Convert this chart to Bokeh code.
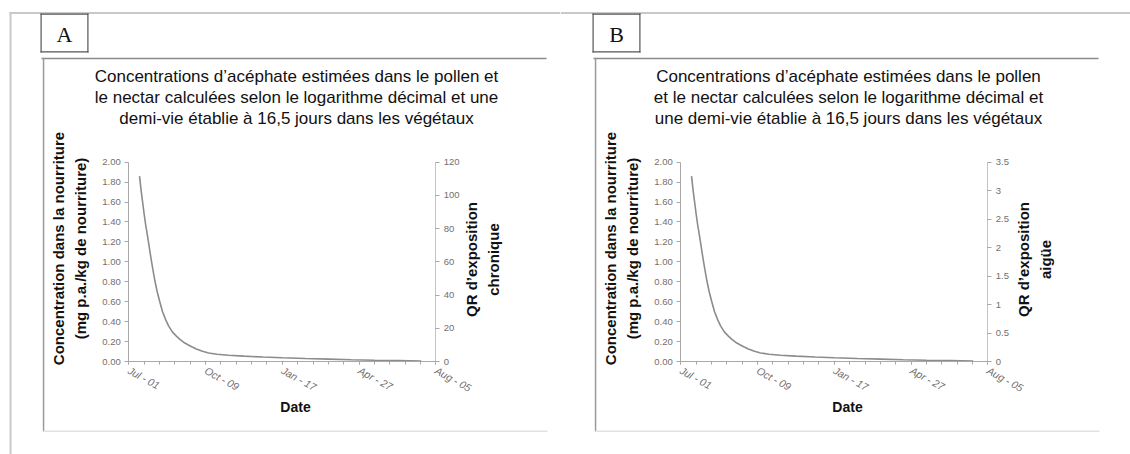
import math
from bokeh.plotting import figure
from bokeh.models import Range1d, LinearAxis, FixedTicker, Label, BoxAnnotation
from bokeh.layouts import row
from bokeh.embed import file_html
from bokeh.resources import INLINE

# ---------------- data ----------------
days_after_jul01 = [14, 16, 18, 20, 22, 25, 28, 31, 34, 37, 40, 44, 48, 52, 57, 62, 67,
                    73, 80, 88, 96, 104, 115, 130, 150, 175, 200, 230, 260, 290, 320, 350, 381]
concentration = [1.86, 1.72, 1.60, 1.48, 1.37, 1.23, 1.08, 0.94, 0.81, 0.70, 0.61, 0.50,
                 0.42, 0.355, 0.295, 0.255, 0.22, 0.185, 0.155, 0.125, 0.103, 0.086, 0.073,
                 0.063, 0.054, 0.045, 0.037, 0.030, 0.024, 0.018, 0.013, 0.009, 0.005]

date_tick_days = [0, 100, 200, 300, 400]
date_tick_labels = ["Jul - 01", "Oct - 09", "Jan - 17", "Apr - 27", "Aug - 05"]
date_minor_days = [0, 20, 40, 60, 80, 100, 120, 140, 160, 180, 200, 220, 240, 260, 280,
                   300, 320, 340, 360, 380, 400]

conc_ticks = [0.0, 0.2, 0.4, 0.6, 0.8, 1.0, 1.2, 1.4, 1.6, 1.8, 2.0]
conc_tick_labels = ["0.00", "0.20", "0.40", "0.60", "0.80", "1.00", "1.20", "1.40",
                    "1.60", "1.80", "2.00"]

qr_chronic_ticks = [0, 20, 40, 60, 80, 100, 120]
qr_chronic_labels = ["0", "20", "40", "60", "80", "100", "120"]
qr_acute_ticks = [0.0, 0.5, 1.0, 1.5, 2.0, 2.5, 3.0, 3.5]
qr_acute_labels = ["0", "0.5", "1", "1.5", "2", "2.5", "3", "3.5"]

title_a = ("Concentrations d\u2019acéphate estimées dans le pollen et\n"
           "le nectar calculées selon le logarithme décimal et une\n"
           "demi-vie établie à 16,5 jours dans les végétaux")
title_b = ("Concentrations d\u2019acéphate estimées dans le pollen\n"
           "et le nectar calculées selon le logarithme décimal et\n"
           "une demi-vie établie à 16,5 jours dans les végétaux")
conc_label = "Concentration dans la nourriture\n(mg p.a./kg de nourriture)"
qr_label_a = "QR d\u2019exposition\nchronique"
qr_label_b = "QR d\u2019exposition\naigüe"

# ---------------- layout constants (page pixels) ----------------
H = 454
PAGE_TOP = 0
PAGE_BOTTOM = PAGE_TOP + H
PX_PER_DAY = 307.0 / 400.0
PX_PER_UNIT = 199.3 / 2.0
Y0_PAGE = 361.0
FONT = "Liberation Sans"
TICK_COLOR = "#707070"
AXIS_COLOR = "#a8a8a8"


def sx(px, fig_left):
    return px - fig_left


def sy(py):
    return PAGE_BOTTOM - py


def bar(p, fig_left, x0, x1, y0, y1, color):
    p.add_layout(BoxAnnotation(left=sx(x0, fig_left), right=sx(x1, fig_left),
                               top=sy(y0), bottom=sy(y1),
                               left_units="screen", right_units="screen",
                               top_units="screen", bottom_units="screen",
                               fill_color=color, fill_alpha=1.0, line_color=None))


def make_panel(fig_left, fig_width, dx, letter, title, qr_ticks, qr_labels, qr_max, qr_label):
    axis_left = 128.3 + dx
    x_start = (fig_left - axis_left) / PX_PER_DAY
    x_end = (fig_left + fig_width - axis_left) / PX_PER_DAY
    y_start = -(PAGE_BOTTOM - Y0_PAGE) / PX_PER_UNIT
    y_end = (Y0_PAGE - PAGE_TOP) / PX_PER_UNIT
    qr_factor = qr_max / 2.0

    p = figure(width=fig_width, height=H, x_range=Range1d(x_start, x_end),
               y_range=Range1d(y_start, y_end), output_backend="svg",
               toolbar_location=None, x_axis_location=None, y_axis_location=None,
               min_border=0, outline_line_color=None, background_fill_color="white",
               border_fill_color="white")
    p.min_border_left = p.min_border_right = p.min_border_top = p.min_border_bottom = 0
    p.grid.visible = False
    p.xgrid.visible = False
    p.ygrid.visible = False
    p.extra_y_ranges = {"qr": Range1d(y_start * qr_factor, y_end * qr_factor)}

    # ---- page decorations ----
    if fig_left < 100:
        bar(p, fig_left, 9, fig_left + fig_width, 11.5, 13.5, "#c9c9c9")   # outer top
        bar(p, fig_left, 9, 11, 11.5, PAGE_BOTTOM, "#c9c9c9")              # outer left
    else:
        bar(p, fig_left, fig_left, fig_left + fig_width, 11.5, 13.5, "#c9c9c9")
    # letter box
    bx0, bx1, by0, by1 = 40 + dx, 88 + dx, 13, 52
    bar(p, fig_left, bx0, bx1, by0, by0 + 1.2, "#555555")
    bar(p, fig_left, bx0, bx1, by1 - 1.2, by1, "#555555")
    bar(p, fig_left, bx0, bx0 + 1.2, by0, by1, "#555555")
    bar(p, fig_left, bx1 - 1.2, bx1, by0, by1, "#555555")
    p.add_layout(Label(x=sx((bx0 + bx1) / 2, fig_left), y=sy((by0 + by1) / 2 + 1),
                       x_units="screen", y_units="screen", text=letter,
                       text_font="Liberation Serif", text_font_size="22px",
                       text_align="center", text_baseline="middle", text_color="#111111"))
    # chart frame
    bar(p, fig_left, 41 + dx, 546 + dx, 57.3, 58.8, "#8a8a8a")   # top
    bar(p, fig_left, 42.3 + dx, 43.8 + dx, 57.3, 431, "#9a9a9a")  # left
    bar(p, fig_left, 43 + dx, 547 + dx, 430, 431.5, "#e2e2e2")   # bottom

    # ---- title & labels ----
    p.add_layout(Label(x=sx(296 + dx, fig_left), y=sy(66), x_units="screen", y_units="screen",
                       text=title, text_font=FONT, text_font_size="17px",
                       text_align="center", text_baseline="top", text_line_height=1.13,
                       text_color="#111111"))
    p.add_layout(Label(x=sx(69 + dx, fig_left), y=sy(248), x_units="screen", y_units="screen",
                       text=conc_label, text_font=FONT, text_font_size="15px",
                       text_font_style="bold", angle=math.pi / 2,
                       text_align="center", text_baseline="middle", text_line_height=1.25,
                       text_color="#111111"))
    p.add_layout(Label(x=sx(482 + dx, fig_left), y=sy(259), x_units="screen", y_units="screen",
                       text=qr_label, text_font=FONT, text_font_size="15px",
                       text_font_style="bold", angle=math.pi / 2,
                       text_align="center", text_baseline="middle", text_line_height=1.25,
                       text_color="#111111"))
    p.add_layout(Label(x=sx(295 + dx, fig_left), y=sy(406), x_units="screen", y_units="screen",
                       text="Date", text_font=FONT, text_font_size="14px",
                       text_font_style="bold", text_align="center", text_baseline="middle",
                       text_color="#111111"))

    # ---- axes ----
    common = dict(major_label_text_font=FONT, major_label_text_font_size="9.5px",
                  major_label_text_color=TICK_COLOR, axis_line_color=AXIS_COLOR,
                  major_tick_line_color=AXIS_COLOR, minor_tick_line_color=AXIS_COLOR,
                  major_tick_in=0, major_tick_out=4, minor_tick_in=0, minor_tick_out=0,
                  major_label_standoff=4)

    xa = LinearAxis(fixed_location=0, bounds=(0, 400),
                    ticker=FixedTicker(ticks=date_tick_days, minor_ticks=date_minor_days),
                    major_label_overrides=dict(zip(date_tick_days, date_tick_labels)),
                    major_label_orientation=-0.5, **common)
    xa.major_tick_out = 3
    xa.minor_tick_out = 3
    xa.major_label_standoff = 5
    xa.major_label_text_font_size = "10.5px"
    xa.major_label_text_font_style = "italic"
    p.add_layout(xa, "below")

    ya = LinearAxis(fixed_location=0, bounds=(0, 2.0), ticker=FixedTicker(ticks=conc_ticks),
                    major_label_overrides=dict(zip(conc_ticks, conc_tick_labels)), **common)
    p.add_layout(ya, "left")

    ra = LinearAxis(y_range_name="qr", fixed_location=400, bounds=(0, qr_max),
                    ticker=FixedTicker(ticks=qr_ticks),
                    major_label_overrides=dict(zip(qr_ticks, qr_labels)), **common)
    ra.axis_line_color = "#c4c4c4"
    p.add_layout(ra, "right")

    p.line(days_after_jul01, concentration, line_color="#8c8c8c", line_width=1.6)
    return p


pa = make_panel(0, 560, 0, "A", title_a, qr_chronic_ticks, qr_chronic_labels, 120, qr_label_a)
pb = make_panel(560, 570, 552, "B", title_b, qr_acute_ticks, qr_acute_labels, 3.5, qr_label_b)

layout = row(pa, pb, spacing=0)
open("out.html", "w").write(file_html(layout, INLINE))
